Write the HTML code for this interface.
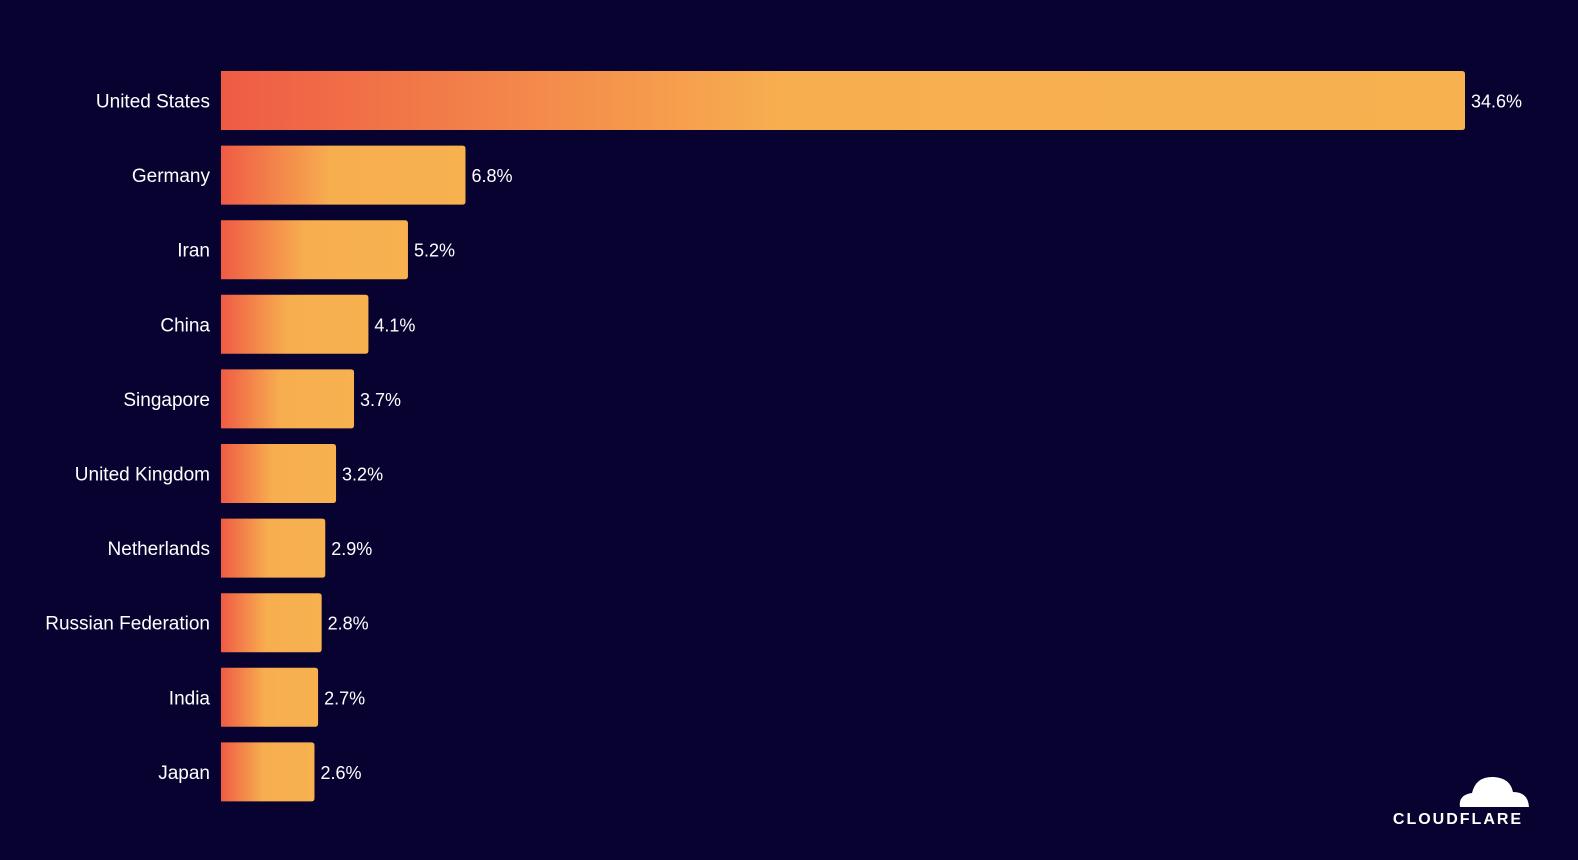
<!DOCTYPE html>
<html><head><meta charset="utf-8"><style>
html,body{margin:0;padding:0;background:#080230;}
svg{display:block;font-family:"Liberation Sans",Arial,sans-serif;}
</style></head><body>
<svg id="chart" width="1578" height="860" viewBox="0 0 1578 860">
<defs>
<linearGradient id="g" x1="0" x2="1" y1="0" y2="0">
<stop offset="0" stop-color="#ef5b45"/><stop offset="0.45" stop-color="#f7ae4f"/><stop offset="1" stop-color="#f7b14f"/>
</linearGradient>
</defs>
<rect x="0" y="0" width="1578" height="860" fill="#080230"/>
<g id="bars"></g>
<g>
<path d="M1460 807 Q1458 795 1472 793 Q1476 776 1494 777 Q1510 778 1513 792 Q1528 792 1529 807 Z" fill="#fff"/>
<text x="1458" y="824" text-anchor="middle" fill="#fff" font-size="16" font-weight="bold" letter-spacing="2">CLOUDFLARE</text>
</g>
</svg>
<script>
const categories=["United States","Germany","Iran","China","Singapore","United Kingdom","Netherlands","Russian Federation","India","Japan"];
const values=[34.6,6.8,5.2,4.1,3.7,3.2,2.9,2.8,2.7,2.6];
const valueLabels=["34.6%","6.8%","5.2%","4.1%","3.7%","3.2%","2.9%","2.8%","2.7%","2.6%"];
const x0=221,pxPer=1244/34.6,top0=71,step=74.6,bh=59;
const xs=v=>v*pxPer;
const ys=i=>top0+i*step;
const g=document.getElementById('bars');
const NS='http://www.w3.org/2000/svg';
categories.forEach((c,i)=>{
 const w=xs(values[i]),y=ys(i);
 const p=document.createElementNS(NS,'path');
 const r=3;
 p.setAttribute('d',`M${x0} ${y} H${x0+w-r} Q${x0+w} ${y} ${x0+w} ${y+r} V${y+bh-r} Q${x0+w} ${y+bh} ${x0+w-r} ${y+bh} H${x0} Z`);
 p.setAttribute('fill','url(#g)');
 
 
 g.appendChild(p);
 const t=document.createElementNS(NS,'text');
 t.setAttribute('x',210);t.setAttribute('y',y+bh/2+7);
 t.setAttribute('text-anchor','end');t.setAttribute('fill','#fff');t.setAttribute('font-size','19');
 t.textContent=c;
 
 
 g.appendChild(t);
 const v=document.createElementNS(NS,'text');
 v.setAttribute('x',x0+w+6);v.setAttribute('y',y+bh/2+7);
 v.setAttribute('fill','#fff');v.setAttribute('font-size','18');
 v.textContent=valueLabels[i];
 
 
 g.appendChild(v);
});
</script>
</body></html>
